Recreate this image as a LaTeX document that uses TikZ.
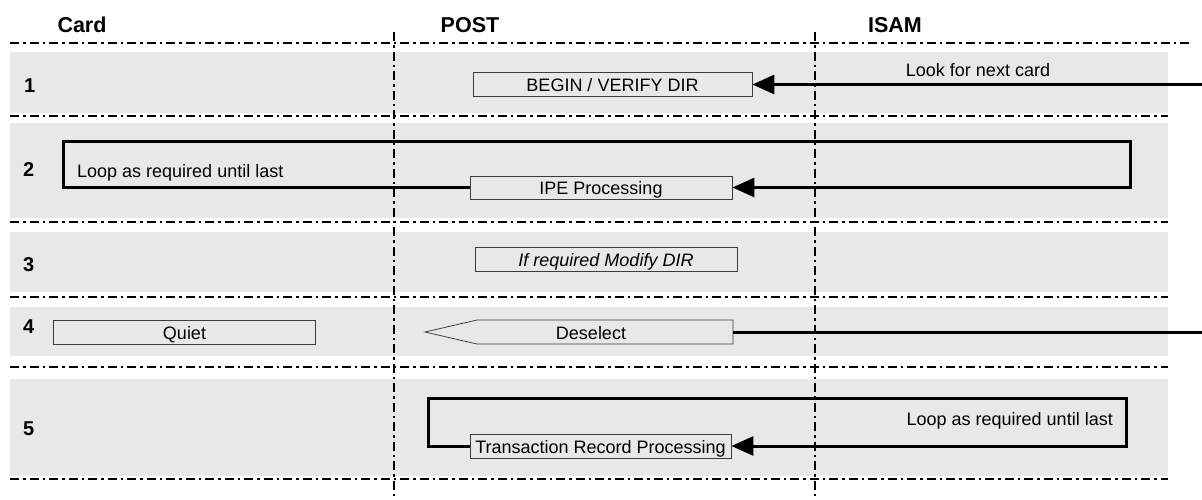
\documentclass[tikz,border=0pt]{standalone}
\usepackage{fontspec}
\setmainfont{Liberation Sans}
\newfontfamily\bodyfont{Liberation Sans}
\usetikzlibrary{arrows.meta}
\definecolor{band}{RGB}{232,232,232}
\definecolor{boxline}{RGB}{60,60,60}
\tikzset{
  bandrect/.style={fill=band, draw=none},
  sepline/.style={line width=2.2pt, dash pattern=on 9pt off 4pt on 2.5pt off 4pt},
  lane/.style={line width=2pt, dash pattern=on 9pt off 4pt on 2.5pt off 4pt},
  header/.style={font=\bfseries\fontsize{21.5}{22}\selectfont, anchor=base, inner sep=0pt},
  rownum/.style={font=\bfseries\fontsize{20}{20}\selectfont, anchor=base west, inner sep=0pt},
  lbl/.style={font=\bodyfont\fontsize{18}{18}\selectfont, inner sep=0pt},
  msgbox/.style={draw=boxline, line width=0.8pt, fill=band, inner sep=0pt,
    text height=14.4pt, text depth=0pt, minimum height=24pt,
    font=\bodyfont\fontsize{18}{18}\selectfont},
  flow/.style={line width=3pt, line join=miter},
  tip/.style={-{Triangle[length=22pt,width=19pt]}}
}
\begin{document}
\begin{tikzpicture}[x=1pt,y=-1pt]
\useasboundingbox (0,0) rectangle (1202,499);

% bands
\fill[bandrect] (10,52) rectangle (1168,113);
\fill[bandrect] (10,123) rectangle (1168,218);
\fill[bandrect] (10,232) rectangle (1168,292);
\fill[bandrect] (10,307) rectangle (1168,356);
\fill[bandrect] (10,379) rectangle (1168,476);

% separators
\draw[sepline] (10,43) -- (1192,43);
\draw[sepline] (10,116) -- (1168,116);
\draw[sepline] (10,222) -- (1168,222);
\draw[sepline] (10,297) -- (1168,297);
\draw[sepline] (10,367) -- (1168,367);
\draw[sepline] (10,479) -- (1168,479);

% lanes
\draw[lane] (394,32) -- (394,499);
\draw[lane] (815,32) -- (815,499);

% headers
\node[header] (hcard) at (82,32) {Card};
\node[header] (hpost) at (470,32) {POST};
\node[header] (hisam) at (895,32) {ISAM};

% row numbers
\node[rownum] (n1) at (24,92) {1};
\node[rownum] (n2) at (23,176) {2};
\node[rownum] (n3) at (23,271) {3};
\node[rownum] (n4) at (23,333) {4};
\node[rownum] (n5) at (23,435) {5};

% row 1
\node[msgbox, minimum width=279pt] (begin) at (612.5,84.5) {BEGIN / VERIFY DIR};
\coordinate (r1) at (1202,84.5);
\draw[flow, tip] (r1) -- (begin.east);
\node[lbl, anchor=base] (look) at (978,76) {Look for next card};

% row 2
\node[msgbox, minimum width=262pt, minimum height=23pt] (ipe) at (601,187.5) {IPE Processing};
\coordinate (l2a) at (63,141);
\coordinate (l2b) at (1130,141);
\draw[flow, tip] (ipe.west) -| (l2a) -- (l2b) |- (ipe.east);
\node[lbl, anchor=base west] (loop2) at (77,177) {Loop as required until last};

% row 3
\node[msgbox, minimum width=262pt] (modify) at (606,259.5) {\itshape If required Modify DIR};

% row 4
\node[msgbox, minimum width=262pt] (quiet) at (184.5,332) {Quiet};
\coordinate (dtip) at (425,332);
\coordinate (dnw) at (477,320);
\coordinate (dne) at (733,320);
\coordinate (dse) at (733,344);
\coordinate (dsw) at (477,344);
\coordinate (deselR) at (733,332);
\draw[boxline, line width=0.8pt, fill=band] (dtip) -- (dnw) -- (dne) -- (dse) -- (dsw) -- cycle;
\node[lbl, text height=14.4pt, text depth=0pt] (desel) at (591,332) {Deselect};
\coordinate (r4) at (1202,332);
\draw[flow] (r4) -- (deselR);

% row 5
\node[msgbox, minimum width=261pt] (trans) at (600.5,446) {Transaction Record Processing};
\coordinate (l5a) at (428,398);
\coordinate (l5b) at (1126,398);
\draw[flow, tip] (trans.west) -| (l5a) -- (l5b) |- (trans.east);
\node[lbl, anchor=base east] (loop5) at (1113,425) {Loop as required until last};
\end{tikzpicture}
\end{document}
